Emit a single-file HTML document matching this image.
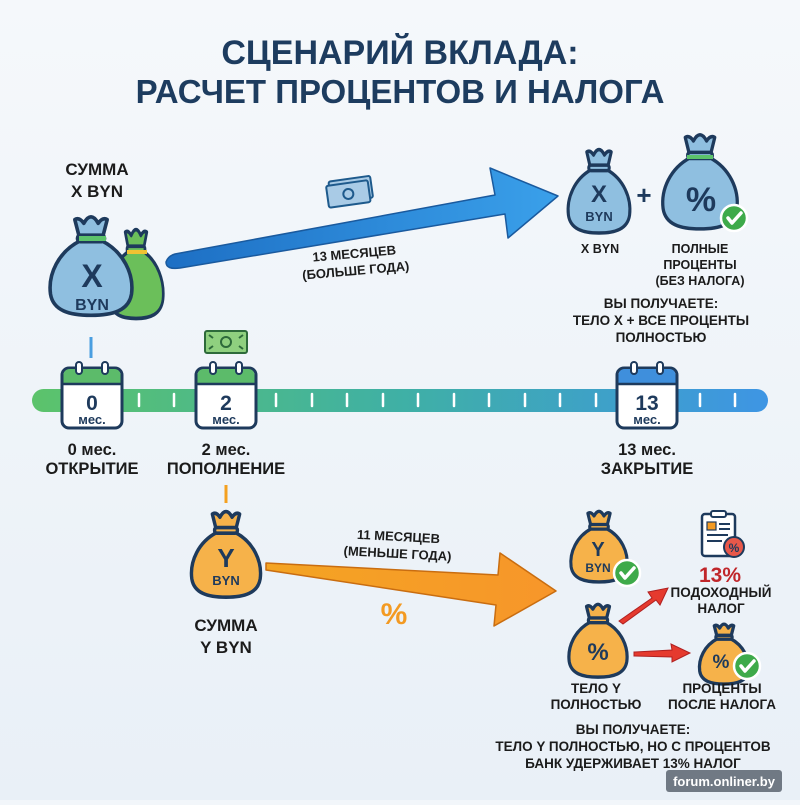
<!DOCTYPE html>
<html><head><meta charset="utf-8"><style>
html,body{margin:0;padding:0;}
body{width:800px;height:800px;overflow:hidden;background:#f2f6fa;}
svg text{font-family:"Liberation Sans","DejaVu Sans",sans-serif;font-weight:bold;}
</style></head><body>
<svg width="800" height="800" viewBox="0 0 800 800" xmlns="http://www.w3.org/2000/svg">
<defs>
<linearGradient id="bg" x1="0" y1="0" x2="0" y2="1"><stop offset="0" stop-color="#f5f8fb"/><stop offset="1" stop-color="#e9f0f7"/></linearGradient>
<linearGradient id="bar" x1="0" x2="1"><stop offset="0" stop-color="#5cc36b"/><stop offset="0.5" stop-color="#3fb0a5"/><stop offset="1" stop-color="#3e95e4"/></linearGradient>
<linearGradient id="barr" x1="0" x2="1"><stop offset="0" stop-color="#1d6fc4"/><stop offset="1" stop-color="#3aa0ea"/></linearGradient>
<linearGradient id="oarr" x1="0" x2="1"><stop offset="0" stop-color="#f4a423"/><stop offset="1" stop-color="#f7962a"/></linearGradient>
<g id="bagshape">
<path d="M32 5 Q37 2 42 9 Q46 2 50 2 Q54 2 58 9 Q63 2 68 5 L63 24 L37 24 Z" stroke-linejoin="round"/>
<path d="M38 28 C14 40 2 64 5 86 C8 104 26 109 50 109 C74 109 92 104 95 86 C98 64 86 40 62 28 Z" stroke-linejoin="round"/>
<rect x="35" y="22" width="30" height="7" rx="3"/>
</g>
<g id="check"><circle r="13" fill="#3eaa4a" stroke="#fff" stroke-width="2.5"/><path d="M-6 0 L-2 5 L7 -5" fill="none" stroke="#fff" stroke-width="3.5" stroke-linecap="round" stroke-linejoin="round"/></g>
<g id="cal"><rect x="0" y="4" width="60" height="60" rx="7" fill="#fff" stroke="#1e3a5c" stroke-width="3"/><path d="M1.5 11 a6 6 0 0 1 6 -6 h45 a6 6 0 0 1 6 6 v8 h-57z" fill="currentColor"/><line x1="1.5" y1="20" x2="58.5" y2="20" stroke="#1e3a5c" stroke-width="2.5"/><rect x="14" y="-2" width="6" height="12" rx="3" fill="#fff" stroke="#1e3a5c" stroke-width="2"/><rect x="40" y="-2" width="6" height="12" rx="3" fill="#fff" stroke="#1e3a5c" stroke-width="2"/></g>
<g id="note"><rect x="0" y="0" width="42" height="22" rx="2" fill="#8fd07f" stroke="#2d6a3a" stroke-width="2"/><circle cx="21" cy="11" r="5" fill="none" stroke="#2d6a3a" stroke-width="2"/><path d="M4 4 l4 3 M38 4 l-4 3 M4 18 l4 -3 M38 18 l-4 -3" stroke="#2d6a3a" stroke-width="2"/></g>
</defs>
<rect width="800" height="800" fill="url(#bg)"/>

<text x="400" y="64" font-size="34" fill="#1d3c5f" text-anchor="middle">СЦЕНАРИЙ ВКЛАДА:</text>
<text x="400" y="103" font-size="33" fill="#1d3c5f" text-anchor="middle">РАСЧЕТ ПРОЦЕНТОВ И НАЛОГА</text>

<g font-size="17" fill="#1b1b1b" text-anchor="middle">
<text x="97" y="175">СУММА</text><text x="97" y="197">X BYN</text>
</g>
<g transform="translate(106,228) scale(0.6,0.83)" fill="#6bbf5a" stroke="#1e3a5c" stroke-width="4.5"><use href="#bagshape"/></g>
<rect x="127" y="250" width="20" height="4" fill="#f1c232"/>
<g transform="translate(46,215) scale(0.9,0.92)" fill="#8fbfe0" stroke="#1e3a5c" stroke-width="4"><use href="#bagshape"/></g>
<rect x="79" y="236" width="27" height="5" fill="#5cc36b"/>
<text x="92" y="287" font-size="32" fill="#1e3a5c" text-anchor="middle">X</text>
<text x="92" y="310" font-size="16" fill="#1e3a5c" text-anchor="middle">BYN</text>

<path d="M166 262 Q168 256 175 254 L495 195 L490 168 L558 196 L508 238 L505 214 L180 268 Q166 270 166 262Z" fill="url(#barr)" stroke="#1a5a9e" stroke-width="1.5" stroke-linejoin="round"/>
<g transform="translate(326,186) rotate(-8)"><rect x="3" y="-4" width="42" height="22" rx="2" fill="#a9cbe6" stroke="#1e5a8c" stroke-width="2"/><rect x="0" y="0" width="42" height="22" rx="2" fill="#a9cbe6" stroke="#1e5a8c" stroke-width="2"/><circle cx="21" cy="11" r="5" fill="none" stroke="#1e5a8c" stroke-width="2"/></g>
<g transform="rotate(-5 355 262)" font-size="13" fill="#1b1b1b" text-anchor="middle"><text x="355" y="258">13 МЕСЯЦЕВ</text><text x="355" y="275">(БОЛЬШЕ ГОДА)</text></g>

<g transform="translate(565,148) scale(0.68,0.78)" fill="#8fbfe0" stroke="#1e3a5c" stroke-width="4.5"><use href="#bagshape"/></g>
<text x="599" y="202" font-size="24" fill="#1e3a5c" text-anchor="middle">X</text>
<text x="599" y="221" font-size="13" fill="#1e3a5c" text-anchor="middle">BYN</text>
<text x="644" y="204" font-size="26" fill="#1e3a5c" text-anchor="middle">+</text>
<g transform="translate(659,133) scale(0.82,0.88)" fill="#8fbfe0" stroke="#1e3a5c" stroke-width="4"><use href="#bagshape"/></g>
<rect x="687" y="155" width="26" height="4" fill="#5cc36b"/>
<text x="701" y="211" font-size="34" fill="#1e3a5c" text-anchor="middle">%</text>
<use href="#check" x="734" y="218"/>
<g font-size="12.5" fill="#1b1b1b" text-anchor="middle">
<text x="600" y="253">X BYN</text>
<text x="700" y="253">ПОЛНЫЕ</text><text x="700" y="269">ПРОЦЕНТЫ</text><text x="700" y="285">(БЕЗ НАЛОГА)</text>
</g>
<g font-size="13.5" fill="#1b1b1b" text-anchor="middle">
<text x="661" y="308">ВЫ ПОЛУЧАЕТЕ:</text><text x="661" y="325">ТЕЛО X + ВСЕ ПРОЦЕНТЫ</text><text x="661" y="342">ПОЛНОСТЬЮ</text>
</g>

<rect x="32" y="389" width="736" height="23" rx="11.5" fill="url(#bar)"/>
<g stroke="#fff" stroke-width="2.5" stroke-linecap="round">
<line x1="139" y1="394" x2="139" y2="406"/><line x1="174" y1="394" x2="174" y2="406"/>
<line x1="276" y1="394" x2="276" y2="406"/><line x1="312" y1="394" x2="312" y2="406"/><line x1="347" y1="394" x2="347" y2="406"/><line x1="383" y1="394" x2="383" y2="406"/><line x1="418" y1="394" x2="418" y2="406"/><line x1="454" y1="394" x2="454" y2="406"/><line x1="489" y1="394" x2="489" y2="406"/><line x1="525" y1="394" x2="525" y2="406"/><line x1="560" y1="394" x2="560" y2="406"/><line x1="596" y1="394" x2="596" y2="406"/><line x1="700" y1="394" x2="700" y2="406"/><line x1="735" y1="394" x2="735" y2="406"/>
</g>
<line x1="91" y1="337" x2="91" y2="358" stroke="#4a9ee0" stroke-width="3"/>
<use href="#note" x="205" y="331"/>
<use href="#cal" x="62" y="364" color="#5cbb6a"/>
<use href="#cal" x="196" y="364" color="#5cbb6a"/>
<use href="#cal" x="617" y="364" color="#3f8fdc"/>
<g fill="#1e3a5c" text-anchor="middle">
<text x="92" y="410" font-size="21">0</text><text x="92" y="424" font-size="13">мес.</text>
<text x="226" y="410" font-size="21">2</text><text x="226" y="424" font-size="13">мес.</text>
<text x="647" y="410" font-size="21">13</text><text x="647" y="424" font-size="13">мес.</text>
</g>
<g font-size="16.5" fill="#1b1b1b" text-anchor="middle">
<text x="92" y="455">0 мес.</text><text x="92" y="474">ОТКРЫТИЕ</text>
<text x="226" y="455">2 мес.</text><text x="226" y="474">ПОПОЛНЕНИЕ</text>
<text x="647" y="455">13 мес.</text><text x="647" y="474">ЗАКРЫТИЕ</text>
</g>

<line x1="226" y1="485" x2="226" y2="503" stroke="#f4a020" stroke-width="3"/>
<g transform="translate(188,510) scale(0.76,0.8)" fill="#f6b24a" stroke="#1e3a5c" stroke-width="4.5"><use href="#bagshape"/></g>
<text x="226" y="567" font-size="26" fill="#1e3a5c" text-anchor="middle">Y</text>
<text x="226" y="585" font-size="13" fill="#1e3a5c" text-anchor="middle">BYN</text>
<g font-size="17" fill="#1b1b1b" text-anchor="middle"><text x="226" y="631">СУММА</text><text x="226" y="653">Y BYN</text></g>

<path d="M266 563 L498 575 L500 553 L556 591 L494 626 L496 605 L266 570Z" fill="url(#oarr)" stroke="#c96d10" stroke-width="1.5" stroke-linejoin="round"/>
<g transform="rotate(3 398 545)" font-size="13" fill="#1b1b1b" text-anchor="middle"><text x="398" y="541">11 МЕСЯЦЕВ</text><text x="398" y="558">(МЕНЬШЕ ГОДА)</text></g>
<text x="394" y="624" font-size="30" fill="#f39a22" text-anchor="middle">%</text>

<g transform="translate(568,510) scale(0.62,0.66)" fill="#f6b24a" stroke="#1e3a5c" stroke-width="5"><use href="#bagshape"/></g>
<text x="598" y="556" font-size="20" fill="#1e3a5c" text-anchor="middle">Y</text>
<text x="598" y="572" font-size="12" fill="#1e3a5c" text-anchor="middle">BYN</text>
<use href="#check" x="627" y="573"/>
<g transform="translate(566,603) scale(0.64,0.68)" fill="#f6b24a" stroke="#1e3a5c" stroke-width="5"><use href="#bagshape"/></g>
<text x="598" y="660" font-size="24" fill="#1e3a5c" text-anchor="middle">%</text>
<path d="M619 621 L652 598 L648 592 L668 588 L660 605 L656 600 L623 624Z" fill="#e53a2e" stroke="#b02020" stroke-width="1"/>
<path d="M634 652 L672 650 L671 644 L690 653 L672 662 L672 657 L634 656Z" fill="#e53a2e" stroke="#b02020" stroke-width="1"/>
<rect x="702" y="514" width="33" height="42" rx="3" fill="#fff" stroke="#1e3a5c" stroke-width="2.5"/>
<rect x="711" y="511" width="15" height="6" rx="2" fill="#fff" stroke="#1e3a5c" stroke-width="2"/>
<rect x="707" y="522" width="9" height="8" fill="#f39a22" stroke="#1e3a5c" stroke-width="1.2"/>
<g stroke="#1e3a5c" stroke-width="2"><line x1="719" y1="524" x2="730" y2="524"/><line x1="719" y1="529" x2="730" y2="529"/><line x1="707" y1="535" x2="728" y2="535"/><line x1="707" y1="541" x2="722" y2="541"/></g>
<circle cx="734" cy="547" r="10" fill="#e8584a" stroke="#1e3a5c" stroke-width="2"/>
<text x="734" y="552" font-size="12" fill="#1e3a5c" text-anchor="middle">%</text>
<text x="720" y="582" font-size="21" fill="#c0262a" text-anchor="middle">13%</text>
<g font-size="13.5" fill="#1b1b1b" text-anchor="middle"><text x="721" y="597">ПОДОХОДНЫЙ</text><text x="721" y="613">НАЛОГ</text></g>
<g transform="translate(697,623) scale(0.54,0.56)" fill="#f6b24a" stroke="#1e3a5c" stroke-width="6"><use href="#bagshape"/></g>
<text x="721" y="668" font-size="19" fill="#1e3a5c" text-anchor="middle">%</text>
<use href="#check" x="747" y="666"/>
<g font-size="13.5" fill="#1b1b1b" text-anchor="middle">
<text x="596" y="693">ТЕЛО Y</text><text x="596" y="709">ПОЛНОСТЬЮ</text>
<text x="722" y="693">ПРОЦЕНТЫ</text><text x="722" y="709">ПОСЛЕ НАЛОГА</text>
<text x="633" y="734">ВЫ ПОЛУЧАЕТЕ:</text>
<text x="633" y="751">ТЕЛО Y ПОЛНОСТЬЮ, НО С ПРОЦЕНТОВ</text>
<text x="633" y="768">БАНК УДЕРЖИВАЕТ 13% НАЛОГ</text>
</g>
<rect x="666" y="770" width="116" height="22" rx="3" fill="#5a6470" opacity="0.85"/>
<text x="724" y="786" font-size="13" fill="#fff" text-anchor="middle">forum.onliner.by</text>
</svg>
</body></html>
